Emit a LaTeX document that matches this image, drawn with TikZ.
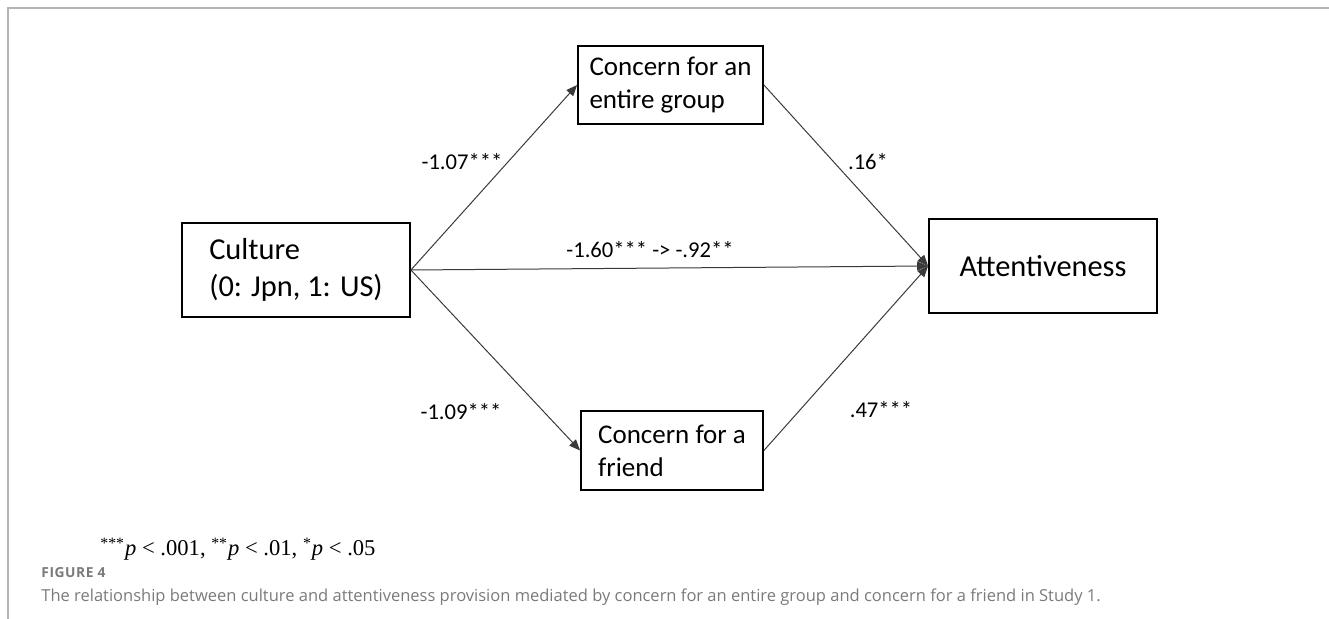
\documentclass[tikz,border=0pt]{standalone}
\usepackage{fontspec}
\setmainfont{Carlito}
\newfontfamily\timesf{Liberation Serif}
\newfontfamily\capf{Open Sans}
\newfontfamily\figf[LetterSpace=4]{Open Sans}
\usetikzlibrary{arrows.meta}
\definecolor{framegray}{HTML}{B4B4B4}
\definecolor{capgray}{HTML}{7A7A7A}
\definecolor{linegray}{HTML}{3A3A3A}
\tikzset{
  varbox/.style={draw=black, line width=0.9pt, align=left, inner sep=0pt},
  bigtext/.style={font=\fontsize{15.2}{18.4}\selectfont},
  smalltext/.style={font=\fontsize{13.5}{16.4}\selectfont},
  coef/.style={font=\fontsize{11.3}{13}\selectfont, inner sep=0pt},
  path/.style={draw=linegray, line width=0.5pt, -{Triangle[length=5.5pt,width=4.5pt]}},
  framing/.style={draw=framegray, line width=0.8pt}
}
\begin{document}
\begin{tikzpicture}[x=0.5pt, y=-0.5pt]
\useasboundingbox (0,0) rectangle (1329,619);
\coordinate (fa) at (8,619);
\coordinate (fb) at (8,8);
\coordinate (fc) at (1329,8);
\draw[framing] (fa) -- (fb) -- (fc);

\node[varbox, bigtext, minimum width=114pt, minimum height=47pt] (cult) at (296,270) {Culture\\(0: Jpn, 1: US)};
\node[varbox, smalltext, minimum width=92.5pt, minimum height=39pt] (grp) at (670.5,85) {Concern for an\\entire group};
\node[varbox, smalltext, minimum width=91pt, minimum height=39.5pt] (frd) at (672,450.5) {Concern for a\\friend};
\node[varbox, bigtext, minimum width=114pt, minimum height=47pt] (att) at (1043,266) {Attentiveness};

\draw[path] (cult.east) -- (grp.west);
\draw[path] (cult.east) -- (frd.west);
\draw[path] (cult.east) -- (att.west);
\draw[path] (grp.east) -- (att.west);
\draw[path] (frd.east) -- (att.west);

\node[coef] (l1) at (462,162) {-1.07***};
\node[coef] (l2) at (461,412) {-1.09***};
\node[coef] (l3) at (868,162) {.16*};
\node[coef] (l4) at (881,410) {.47***};
\node[coef] (l5) at (650,250) {-1.60*** -> -.92**};

\node[anchor=base west, inner sep=0pt, font=\timesf\fontsize{11.3}{13}\selectfont] (note) at (100,556)
  {\textsuperscript{***}\textit{p} < .001, \textsuperscript{**}\textit{p} < .01, \textsuperscript{*}\textit{p} < .05};

\node[anchor=base west, inner sep=0pt, text=capgray, font=\figf\bfseries\fontsize{6.9}{7}\selectfont] (fig) at (41,578) {FIGURE 4};
\node[anchor=base west, inner sep=0pt, text=capgray, font=\capf\fontsize{8.25}{9}\selectfont] (cap) at (41,602)
  {The relationship between culture and attentiveness provision mediated by concern for an entire group and concern for a friend in Study 1.};
\end{tikzpicture}
\end{document}
